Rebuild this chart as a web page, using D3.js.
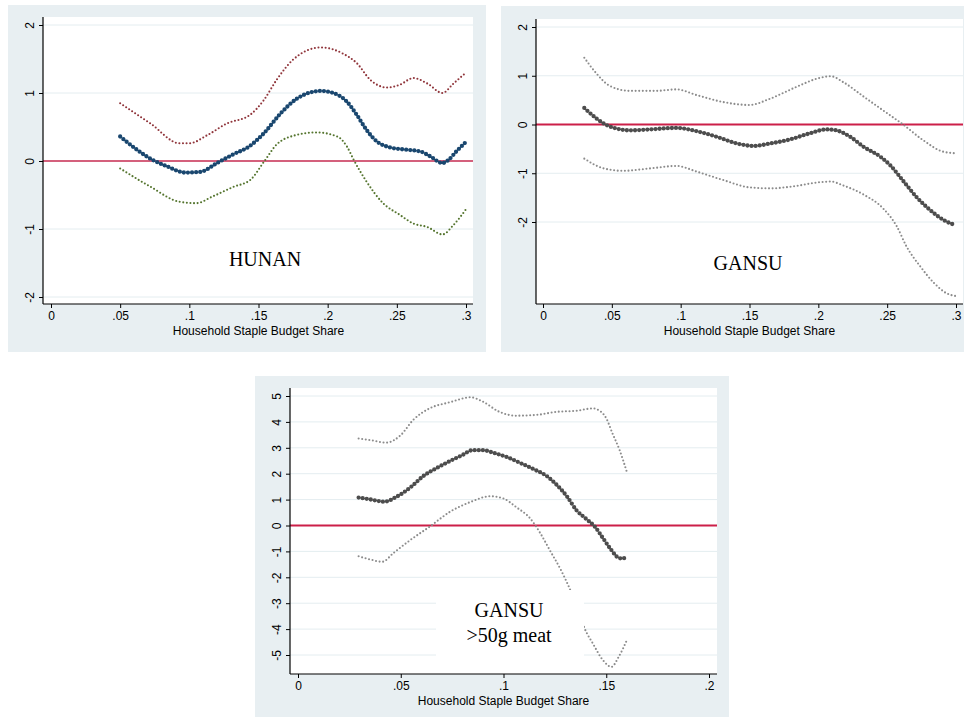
<meta charset="utf-8" />
<style>
	body { margin: 0; background: #fff; }
	svg text { font-family: 'Liberation Sans', Arial, sans-serif; }
</style>
<svg width="964" height="717"></svg>
<script src="https://cdn.jsdelivr.net/npm/d3@7"></script>
<script>
	// values, [budget share, effect]
	var hunanFit = [[0.05,0.36],[0.074,0.01],[0.084,-0.08],[0.097,-0.17],[0.108,-0.16],[0.12,-0.03],[0.132,0.10],[0.143,0.21],[0.154,0.41],[0.166,0.70],[0.178,0.92],[0.195,1.03],[0.204,1.00],[0.214,0.87],[0.221,0.68],[0.228,0.46],[0.236,0.28],[0.245,0.20],[0.255,0.17],[0.267,0.14],[0.274,0.07],[0.283,-0.03],[0.287,0.01],[0.293,0.14],[0.3,0.28]];
	var hunanUpper = [[0.05,0.85],[0.072,0.55],[0.093,0.26],[0.1,0.26],[0.113,0.38],[0.127,0.55],[0.144,0.68],[0.154,0.90],[0.163,1.19],[0.175,1.49],[0.195,1.67],[0.211,1.58],[0.221,1.44],[0.231,1.19],[0.243,1.08],[0.252,1.12],[0.262,1.22],[0.272,1.14],[0.283,1.00],[0.291,1.14],[0.3,1.30]];
	var hunanLower = [[0.05,-0.11],[0.072,-0.38],[0.093,-0.60],[0.105,-0.62],[0.117,-0.52],[0.132,-0.38],[0.144,-0.28],[0.154,-0.01],[0.163,0.24],[0.175,0.37],[0.192,0.42],[0.207,0.36],[0.214,0.21],[0.219,0.01],[0.228,-0.30],[0.24,-0.62],[0.252,-0.79],[0.262,-0.92],[0.272,-0.97],[0.283,-1.08],[0.291,-0.94],[0.3,-0.71]];

	var gansuFit = [[0.03,0.34],[0.039,0.12],[0.046,-0.01],[0.053,-0.08],[0.063,-0.12],[0.078,-0.10],[0.097,-0.07],[0.112,-0.14],[0.126,-0.25],[0.141,-0.39],[0.153,-0.44],[0.165,-0.39],[0.179,-0.31],[0.194,-0.18],[0.206,-0.10],[0.213,-0.12],[0.223,-0.25],[0.233,-0.46],[0.245,-0.66],[0.252,-0.83],[0.262,-1.17],[0.272,-1.51],[0.281,-1.75],[0.291,-1.96],[0.3,-2.07]];
	var gansuUpper = [[0.03,1.37],[0.039,1.04],[0.048,0.80],[0.063,0.69],[0.082,0.69],[0.097,0.72],[0.112,0.60],[0.131,0.46],[0.15,0.40],[0.165,0.53],[0.184,0.77],[0.199,0.94],[0.209,0.99],[0.218,0.87],[0.233,0.57],[0.247,0.29],[0.262,-0.01],[0.276,-0.32],[0.291,-0.56],[0.3,-0.59]];
	var gansuLower = [[0.03,-0.70],[0.044,-0.90],[0.058,-0.95],[0.078,-0.90],[0.097,-0.85],[0.112,-0.97],[0.131,-1.14],[0.15,-1.29],[0.165,-1.31],[0.184,-1.26],[0.199,-1.19],[0.209,-1.17],[0.218,-1.25],[0.233,-1.44],[0.247,-1.72],[0.257,-2.09],[0.264,-2.50],[0.274,-2.91],[0.284,-3.25],[0.293,-3.46],[0.3,-3.52]];

	var meatFit = [[0.0295,1.08],[0.035,1.01],[0.042,0.92],[0.048,1.11],[0.055,1.49],[0.061,1.91],[0.068,2.24],[0.074,2.49],[0.08,2.72],[0.085,2.91],[0.09,2.91],[0.095,2.81],[0.102,2.63],[0.108,2.42],[0.1145,2.18],[0.121,1.91],[0.126,1.56],[0.131,1.11],[0.1355,0.59],[0.14,0.27],[0.1445,-0.05],[0.1485,-0.50],[0.1525,-0.95],[0.156,-1.25],[0.158,-1.28],[0.16,-1.17]];
	var meatUpper = [[0.0295,3.36],[0.035,3.30],[0.043,3.20],[0.05,3.49],[0.056,4.07],[0.064,4.52],[0.074,4.76],[0.084,4.95],[0.09,4.78],[0.098,4.39],[0.106,4.24],[0.116,4.27],[0.126,4.39],[0.1355,4.43],[0.1435,4.52],[0.1475,4.39],[0.15,4.14],[0.153,3.56],[0.1565,2.91],[0.16,2.07]];
	var meatLower = [[0.0295,-1.19],[0.035,-1.31],[0.041,-1.40],[0.0465,-1.06],[0.0545,-0.57],[0.064,-0.05],[0.074,0.53],[0.084,0.91],[0.0935,1.13],[0.1,1.04],[0.106,0.72],[0.113,0.27],[0.118,-0.31],[0.1225,-0.95],[0.128,-1.73],[0.132,-2.40],[0.136,-3.2],[0.1395,-3.98],[0.1435,-4.56],[0.1485,-5.21],[0.1525,-5.46],[0.156,-5.08],[0.16,-4.43]];

	var xTicks1 = [0, 0.05, 0.1, 0.15, 0.2, 0.25, 0.3];
	var xTicks3 = [0, 0.05, 0.1, 0.15, 0.2];
	var yTicks1 = [-2, -1, 0, 1, 2];
	var yTicks3 = [-5, -4, -3, -2, -1, 0, 1, 2, 3, 4, 5];

	var svg = d3.select('svg');
	var fmtX = d => (d === 0 ? '0' : String(d).replace(/^0\./, '.'));

	function panel(o) {
		var g = svg.append('g');
		g.append('rect').attr('x', o.bg[0]).attr('y', o.bg[1])
			.attr('width', o.bg[2] - o.bg[0]).attr('height', o.bg[3] - o.bg[1])
			.attr('fill', '#e8eff2');
		var p = o.plot; // left, top, right, bottom
		g.append('rect').attr('x', p[0]).attr('y', p[1])
			.attr('width', p[2] - p[0]).attr('height', p[3] - p[1])
			.attr('fill', '#fff');

		var x = d3.scaleLinear().domain(o.xDom).range(o.xRange);
		var y = d3.scaleLinear().domain(o.yDom).range(o.yRange);

		// grid
		g.selectAll('.grid').data(o.yTicks.filter(d => d !== 0)).join('line')
			.attr('x1', p[0]).attr('x2', p[2])
			.attr('y1', d => y(d)).attr('y2', d => y(d))
			.attr('stroke', '#e4edf0').attr('stroke-width', 1);

		g.append('line').attr('x1', p[0]).attr('x2', p[2])
			.attr('y1', y(0)).attr('y2', y(0))
			.attr('stroke', o.zeroColor).attr('stroke-width', 1.8);

		var line = d3.line().x(d => x(d[0])).y(d => y(d[1])).curve(d3.curveMonotoneX);

		[[o.upper, o.upColor], [o.lower, o.loColor]].forEach(s => {
			g.append('path').attr('d', line(s[0]))
				.attr('fill', 'none').attr('stroke', s[1])
				.attr('stroke-width', 2.1).attr('stroke-linecap', 'round')
				.attr('stroke-dasharray', '0 3.6');
		});
		g.append('path').attr('d', line(o.fit))
			.attr('fill', 'none').attr('stroke', o.fitColor)
			.attr('stroke-width', 4.3).attr('stroke-linecap', 'round')
			.attr('stroke-dasharray', '0 4.1');

		if (o.box) {
			g.append('rect').attr('x', o.box[0]).attr('y', o.box[1])
				.attr('width', o.box[2] - o.box[0]).attr('height', o.box[3] - o.box[1])
				.attr('fill', '#fff');
		}
		o.label.forEach((t, i) => {
			g.append('text').attr('x', o.labelPos[0]).attr('y', o.labelPos[1] + i * 25)
				.attr('text-anchor', 'middle')
				.style('font-family', "'Liberation Serif', 'Times New Roman', serif")
				.style('font-size', '20px').text(t);
		});

		// axes
		var ax = g.append('g').attr('transform', 'translate(0,' + p[3] + ')')
			.call(d3.axisBottom(x).tickValues(o.xTicks).tickFormat(fmtX).tickSize(4).tickSizeOuter(0));
		var ay = g.append('g').attr('transform', 'translate(' + p[0] + ',0)')
			.call(d3.axisLeft(y).tickValues(o.yTicks).tickFormat(d => String(d)).tickSize(4).tickSizeOuter(0));
		[ax, ay].forEach(a => {
			a.select('.domain').remove();
			a.selectAll('line').attr('stroke', '#000');
			a.selectAll('text').attr('fill', '#000').style('font-size', '12px')
				.style('font-family', "'Liberation Sans', Arial, sans-serif");
		});
		ax.selectAll('text').attr('y', 7);
		ay.selectAll('text').attr('transform', 'rotate(-90)')
			.attr('x', 0).attr('y', -9).attr('dy', 0).attr('text-anchor', 'middle');
		g.append('line').attr('x1', p[0]).attr('x2', p[2]).attr('y1', p[3]).attr('y2', p[3])
			.attr('stroke', '#000').attr('stroke-width', 1.2);
		g.append('line').attr('x1', p[0]).attr('x2', p[0]).attr('y1', p[1]).attr('y2', p[3])
			.attr('stroke', '#000').attr('stroke-width', 1.2);

		g.append('text').attr('x', (o.xRange[0] + o.xRange[1]) / 2).attr('y', p[3] + 31)
			.attr('text-anchor', 'middle').style('font-size', '12px')
			.text('Household Staple Budget Share');
	}

	panel({
		bg: [8, 5, 486, 352], plot: [43, 17, 473, 304],
		xDom: [0, 0.3], xRange: [51, 466], yDom: [-2, 2], yRange: [297, 25],
		xTicks: xTicks1, yTicks: yTicks1,
		fit: hunanFit, upper: hunanUpper, lower: hunanLower,
		fitColor: '#1a476f', upColor: '#90353b', loColor: '#55752f', zeroColor: '#d4607c',
		label: ['HUNAN'], labelPos: [265, 266]
	});

	panel({
		bg: [501, 6, 964, 352], plot: [536, 19, 963, 304],
		xDom: [0, 0.3], xRange: [543, 956], yDom: [-2, 2], yRange: [222, 27],
		xTicks: xTicks1, yTicks: yTicks1,
		fit: gansuFit, upper: gansuUpper, lower: gansuLower,
		fitColor: '#4d4d4d', upColor: '#8c8c8c', loColor: '#8c8c8c', zeroColor: '#cc1f48',
		label: ['GANSU'], labelPos: [748, 270]
	});

	panel({
		bg: [255, 376, 729, 717], plot: [290, 388, 717, 674],
		xDom: [0, 0.2], xRange: [298, 709], yDom: [-5, 5], yRange: [655, 396],
		xTicks: xTicks3, yTicks: yTicks3,
		fit: meatFit, upper: meatUpper, lower: meatLower,
		fitColor: '#4d4d4d', upColor: '#8c8c8c', loColor: '#8c8c8c', zeroColor: '#cc1f48',
		box: [436, 590, 584, 672],
		label: ['GANSU', '>50g meat'], labelPos: [509, 617]
	});
</script>
